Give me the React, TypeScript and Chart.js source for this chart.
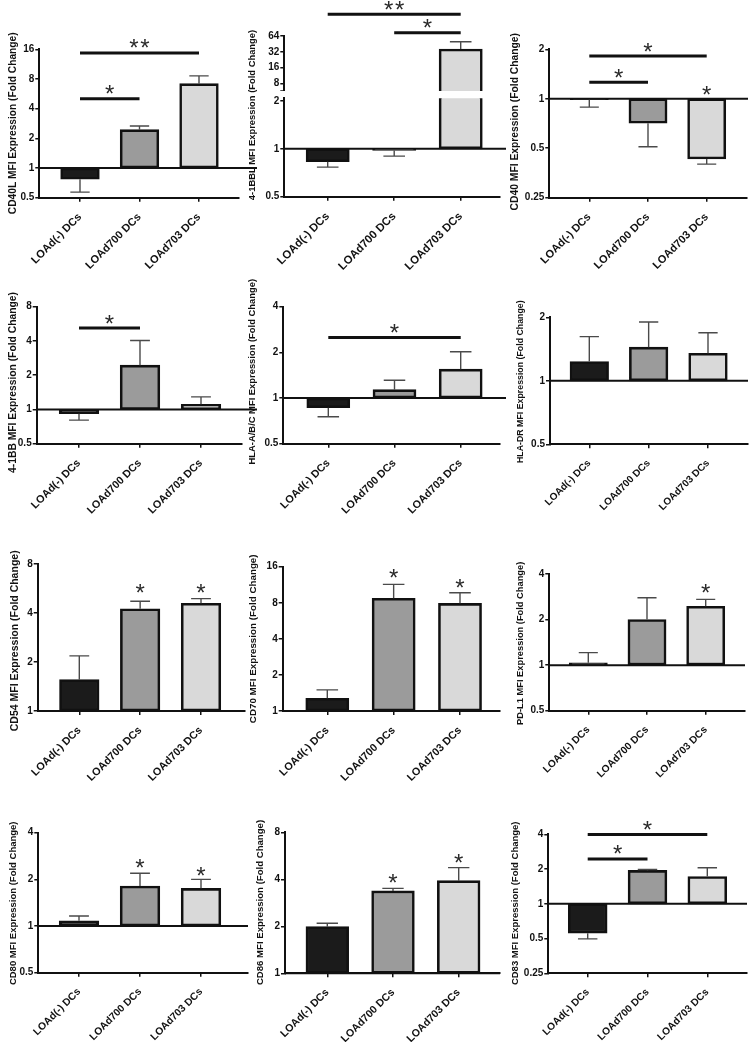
import React, { useEffect, useRef } from 'react';
import { Chart, registerables } from 'chart.js';

Chart.register(...registerables);

const groups = ['LOAd(-) DCs', 'LOAd700 DCs', 'LOAd703 DCs'];
const barColors = ['#1b1b1b', '#9b9b9b', '#d9d9d9'];

// ---- data (fold change, error bar end values, significance marks) ----
const cd40lValues = [0.77, 2.45, 7.17];
const cd40lErrors = [0.57, 2.67, 8.6];
const cd40lBrackets = [{ from: 0, to: 1, y: 5.05, label: '*' }, { from: 0, to: 2, y: 14.7, label: '**' }];
const cd40lTicks = [0.5, 1, 2, 4, 8, 16];

const bbl41Values = [0.83, 0.976, 36];
const bbl41Errors = [0.767, 0.9, 49.7];
const bbl41Brackets = [{ from: 0, to: 2, y: 166, label: '**' }, { from: 1, to: 2, y: 74, label: '*' }];
const bbl41LowerTicks = [0.5, 1, 2];
const bbl41UpperTicks = [8, 16, 32, 64];

const cd40Values = [0.986, 0.71, 0.43];
const cd40Errors = [0.89, 0.51, 0.4];
const cd40Brackets = [{ from: 0, to: 1, y: 1.26, label: '*' }, { from: 0, to: 2, y: 1.82, label: '*' }];
const cd40Stars = [{ at: 2, y: 1.12 }];
const cd40Ticks = [0.25, 0.5, 1, 2];

const bb41Values = [0.916, 2.45, 1.11];
const bb41Errors = [0.806, 4.04, 1.29];
const bb41Brackets = [{ from: 0, to: 1, y: 5.19, label: '*' }];
const bb41Ticks = [0.5, 1, 2, 4, 8];

const hlaAbcValues = [0.863, 1.135, 1.55];
const hlaAbcErrors = [0.753, 1.31, 2.02];
const hlaAbcBrackets = [{ from: 0, to: 2, y: 2.51, label: '*' }];
const hlaAbcTicks = [0.5, 1, 2, 4];

const hlaDrValues = [1.235, 1.444, 1.35];
const hlaDrErrors = [1.62, 1.9, 1.69];
const hlaDrTicks = [0.5, 1, 2];

const cd54Values = [1.557, 4.25, 4.59];
const cd54Errors = [2.18, 4.72, 4.9];
const cd54Stars = [{ at: 1, y: 5.66 }, { at: 2, y: 5.66 }];
const cd54Ticks = [1, 2, 4, 8];

const cd70Values = [1.276, 8.71, 7.91];
const cd70Errors = [1.5, 11.4, 9.7];
const cd70Stars = [{ at: 1, y: 14.1 }, { at: 2, y: 11.6 }];
const cd70Ticks = [1, 2, 4, 8, 16];

const pdl1Values = [1.036, 2.0, 2.45];
const pdl1Errors = [1.21, 2.79, 2.72];
const pdl1Stars = [{ at: 2, y: 3.2 }];
const pdl1Ticks = [0.5, 1, 2, 4];

const cd80Values = [1.08, 1.81, 1.75];
const cd80Errors = [1.16, 2.19, 2.0];
const cd80Stars = [{ at: 1, y: 2.54 }, { at: 2, y: 2.24 }];
const cd80Ticks = [0.5, 1, 2, 4];

const cd86Values = [1.99, 3.37, 3.92];
const cd86Errors = [2.09, 3.5, 4.75];
const cd86Stars = [{ at: 1, y: 4.02 }, { at: 2, y: 5.45 }];
const cd86Ticks = [1, 2, 4, 8];

const cd83Values = [0.557, 1.945, 1.725];
const cd83Errors = [0.497, 1.98, 2.05];
const cd83Brackets = [{ from: 0, to: 1, y: 2.45, label: '*' }, { from: 0, to: 2, y: 3.99, label: '*' }];
const cd83Ticks = [0.25, 0.5, 1, 2, 4];

const FONT = "'Liberation Sans', Arial, sans-serif";

type Seg = {
  rect: { left: number; top: number; width: number; height: number };
  axisX: number; plotTop: number; plotBottom: number;
  t0: number; t2: number; plotRight: number; lineEnd: number;
  yMin: number; yMax: number; ticks: number[];
  showX?: boolean; annot?: boolean; clip?: boolean; title?: boolean; breakTick?: boolean;
};

type Panel = {
  title: string; fs: number; xfs: number; titleX: number; titleY: number;
  values: number[]; errors: number[];
  brackets?: { from: number; to: number; y: number; label: string }[];
  stars?: { at: number; y: number }[];
  segments: Seg[];
};

const col = [
  { left: 0, width: 262 },
  { left: 244, width: 266 },
  { left: 494, width: 257 },
];

function single(c: number, top: number, height: number, g: Omit<Seg, 'rect'>): Seg[] {
  return [{ rect: { left: col[c].left, top, width: col[c].width, height }, showX: true, annot: true, title: true, ...g }];
}

const panels: Panel[] = [
  {
    title: 'CD40L MFI Expression (Fold Change)', fs: 10.2, xfs: 11, titleX: 13.3, titleY: 123.3,
    values: cd40lValues, errors: cd40lErrors, brackets: cd40lBrackets,
    segments: single(0, 0, 270, { axisX: 39.3, plotTop: 49.3, plotBottom: 197.7, t0: 80, t2: 199, plotRight: 239, lineEnd: 257, yMin: 0.5, yMax: 16, ticks: cd40lTicks }),
  },
  {
    title: '4-1BBL MFI Expression (Fold Change)', fs: 9.4, xfs: 11.4, titleX: 252.7, titleY: 115,
    values: bbl41Values, errors: bbl41Errors, brackets: bbl41Brackets,
    segments: [
      { rect: { left: 244, top: 0, width: 266, height: 270 }, axisX: 284.3, plotTop: 98.3, plotBottom: 196.7, t0: 327.7, t2: 460.7, plotRight: 500, lineEnd: 506, yMin: 0.5, yMax: 2.08, ticks: bbl41LowerTicks, showX: true, annot: false, clip: true, title: true },
      { rect: { left: 244, top: 0, width: 266, height: 91 }, axisX: 284.3, plotTop: 36, plotBottom: 91, t0: 327.7, t2: 460.7, plotRight: 500, lineEnd: 506, yMin: 5.7, yMax: 64, ticks: bbl41UpperTicks, showX: false, annot: true, clip: true, title: false, breakTick: true },
    ],
  },
  {
    title: 'CD40 MFI Expression (Fold Change)', fs: 10.3, xfs: 11, titleX: 515, titleY: 121.7,
    values: cd40Values, errors: cd40Errors, brackets: cd40Brackets, stars: cd40Stars,
    segments: single(2, 0, 270, { axisX: 549.3, plotTop: 49.3, plotBottom: 197.7, t0: 589.3, t2: 706.7, plotRight: 747, lineEnd: 748, yMin: 0.25, yMax: 2, ticks: cd40Ticks }),
  },
  {
    title: '4-1BB MFI Expression (Fold Change)', fs: 10.3, xfs: 10.8, titleX: 13.3, titleY: 382.5,
    values: bb41Values, errors: bb41Errors, brackets: bb41Brackets,
    segments: single(0, 260, 270, { axisX: 36.7, plotTop: 306.7, plotBottom: 443.7, t0: 79, t2: 201, plotRight: 242, lineEnd: 257, yMin: 0.5, yMax: 8, ticks: bb41Ticks }),
  },
  {
    title: 'HLA-A/B/C MFI Expression (Fold Change)', fs: 9.4, xfs: 10.8, titleX: 252.7, titleY: 371.7,
    values: hlaAbcValues, errors: hlaAbcErrors, brackets: hlaAbcBrackets,
    segments: single(1, 260, 270, { axisX: 283.3, plotTop: 306.7, plotBottom: 443.7, t0: 328.3, t2: 460.7, plotRight: 500, lineEnd: 506, yMin: 0.5, yMax: 4, ticks: hlaAbcTicks }),
  },
  {
    title: 'HLA-DR MFI Expression (Fold Change)', fs: 8.8, xfs: 10, titleX: 520.7, titleY: 381.7,
    values: hlaDrValues, errors: hlaDrErrors,
    segments: single(2, 260, 270, { axisX: 550, plotTop: 317.3, plotBottom: 444.3, t0: 589.3, t2: 708, plotRight: 748, lineEnd: 748, yMin: 0.5, yMax: 2, ticks: hlaDrTicks }),
  },
  {
    title: 'CD54 MFI Expression (Fold Change)', fs: 10.5, xfs: 10.8, titleX: 15, titleY: 640.8,
    values: cd54Values, errors: cd54Errors, stars: cd54Stars,
    segments: single(0, 520, 270, { axisX: 37.7, plotTop: 564, plotBottom: 711, t0: 79.3, t2: 201, plotRight: 245, lineEnd: 245, yMin: 1, yMax: 8, ticks: cd54Ticks }),
  },
  {
    title: 'CD70 MFI Expression (Fold Change)', fs: 9.8, xfs: 10.8, titleX: 253.3, titleY: 638.8,
    values: cd70Values, errors: cd70Errors, stars: cd70Stars,
    segments: single(1, 520, 270, { axisX: 282.7, plotTop: 566.7, plotBottom: 711, t0: 327.3, t2: 460, plotRight: 500, lineEnd: 500, yMin: 1, yMax: 16, ticks: cd70Ticks }),
  },
  {
    title: 'PD-L1 MFI Expression (Fold Change)', fs: 9.3, xfs: 10.2, titleX: 520.7, titleY: 643.3,
    values: pdl1Values, errors: pdl1Errors, stars: pdl1Stars,
    segments: single(2, 520, 270, { axisX: 549.3, plotTop: 574, plotBottom: 710.7, t0: 588.3, t2: 705.7, plotRight: 745, lineEnd: 745, yMin: 0.5, yMax: 4, ticks: pdl1Ticks }),
  },
  {
    title: 'CD80 MFI Expression (Fold Change)', fs: 9.5, xfs: 10.3, titleX: 13.3, titleY: 903.3,
    values: cd80Values, errors: cd80Errors, stars: cd80Stars,
    segments: single(0, 780, 262, { axisX: 38.3, plotTop: 832.7, plotBottom: 972.7, t0: 79, t2: 201, plotRight: 248, lineEnd: 248, yMin: 0.5, yMax: 4, ticks: cd80Ticks }),
  },
  {
    title: 'CD86 MFI Expression (Fold Change)', fs: 9.6, xfs: 10.6, titleX: 260, titleY: 902.5,
    values: cd86Values, errors: cd86Errors, stars: cd86Stars,
    segments: single(1, 780, 262, { axisX: 285, plotTop: 832.3, plotBottom: 973.3, t0: 327.3, t2: 458.7, plotRight: 500, lineEnd: 500, yMin: 1, yMax: 8, ticks: cd86Ticks }),
  },
  {
    title: 'CD83 MFI Expression (Fold Change)', fs: 9.5, xfs: 10.2, titleX: 515, titleY: 903.3,
    values: cd83Values, errors: cd83Errors, brackets: cd83Brackets,
    segments: single(2, 780, 262, { axisX: 548.3, plotTop: 834.3, plotBottom: 973.3, t0: 587.7, t2: 707.3, plotRight: 747, lineEnd: 747, yMin: 0.25, yMax: 4, ticks: cd83Ticks }),
  },
];

const INK = '#111111';
const STAR_SIZE = 24;

function drawStar(ctx: CanvasRenderingContext2D, text: string, cx: number, cy: number) {
  ctx.save();
  ctx.font = `${STAR_SIZE}px ${FONT}`;
  ctx.fillStyle = '#2a2a2a';
  ctx.textAlign = 'center';
  ctx.textBaseline = 'alphabetic';
  const chars = text.split('');
  const gap = 11;
  chars.forEach((ch, k) => {
    const m = ctx.measureText(ch);
    const asc = m.actualBoundingBoxAscent;
    const desc = m.actualBoundingBoxDescent;
    const x = cx + (k - (chars.length - 1) / 2) * gap;
    ctx.fillText(ch, x, cy + (asc - desc) / 2);
  });
  ctx.restore();
}

function Segment({ seg, panel }: { seg: Seg; panel: Panel }) {
  const ref = useRef<HTMLCanvasElement>(null);
  useEffect(() => {
    const canvas = ref.current;
    if (!canvas) return;
    const r = seg.rect;
    const step = (seg.t2 - seg.t0) / 2;
    const xMin = -(seg.t0 - seg.axisX) / step;
    const xMax = 2 + (seg.plotRight - seg.t2) / step;
    const barW = step * 0.65;
    const tickFont = { family: FONT, weight: 'bold' as const, size: 10 };
    const xFont = { family: FONT, weight: 'bold' as const, size: panel.xfs };

    const annotPlugin = {
      id: 'annot',
      afterDatasetsDraw(chart: any) {
        const { ctx, chartArea, scales } = chart;
        const xs = scales.x;
        const ys = scales.y;
        const inRange = (v: number) => v >= seg.yMin - 1e-9 && v <= seg.yMax + 1e-9;
        ctx.save();
        // reference line at fold change 1
        if (seg.showX && inRange(1)) {
          const y1 = ys.getPixelForValue(1);
          ctx.strokeStyle = INK;
          ctx.lineWidth = 2;
          ctx.beginPath();
          ctx.moveTo(chartArea.left, y1);
          ctx.lineTo(seg.lineEnd - r.left, y1);
          ctx.stroke();
        }
        // error bars (one-sided)
        panel.values.forEach((v, i) => {
          const e = panel.errors[i];
          if (!inRange(v) || !inRange(e)) return;
          const px = xs.getPixelForValue(i);
          const yv = ys.getPixelForValue(v);
          const ye = ys.getPixelForValue(e);
          const cap = barW * 0.25;
          ctx.strokeStyle = '#4a4a4a';
          ctx.lineWidth = 1.4;
          ctx.beginPath();
          ctx.moveTo(px, yv);
          ctx.lineTo(px, ye);
          ctx.moveTo(px - cap, ye);
          ctx.lineTo(px + cap, ye);
          ctx.stroke();
        });
        if (seg.breakTick) {
          ctx.strokeStyle = INK;
          ctx.lineWidth = 1.5;
          ctx.beginPath();
          ctx.moveTo(chartArea.left - 4, chartArea.bottom);
          ctx.lineTo(chartArea.left, chartArea.bottom);
          ctx.stroke();
        }
        if (seg.annot) {
          (panel.brackets || []).forEach((b) => {
            const x1 = xs.getPixelForValue(b.from);
            const x2 = xs.getPixelForValue(b.to);
            const yb = ys.getPixelForValue(b.y);
            ctx.strokeStyle = INK;
            ctx.lineWidth = 3;
            ctx.beginPath();
            ctx.moveTo(x1, yb);
            ctx.lineTo(x2, yb);
            ctx.stroke();
            drawStar(ctx, b.label, (x1 + x2) / 2, yb - 9);
          });
          (panel.stars || []).forEach((s) => {
            drawStar(ctx, '*', xs.getPixelForValue(s.at), ys.getPixelForValue(s.y));
          });
        }
        if (seg.title) {
          ctx.save();
          ctx.translate(panel.titleX - r.left, panel.titleY - r.top);
          ctx.rotate(-Math.PI / 2);
          ctx.font = `bold ${panel.fs}px ${FONT}`;
          ctx.fillStyle = INK;
          ctx.textAlign = 'center';
          ctx.textBaseline = 'middle';
          ctx.fillText(panel.title, 0, 0);
          ctx.restore();
        }
        ctx.restore();
      },
    };

    const chart = new Chart(canvas, {
      type: 'bar',
      data: {
        datasets: [
          {
            data: panel.values.map((v, i) => ({ x: i, y: [1, v] })) as any,
            backgroundColor: barColors,
            borderColor: INK,
            borderWidth: 2.6,
            borderSkipped: false,
            barThickness: barW,
            clip: seg.clip ? 0 : (false as any),
          },
        ],
      },
      options: {
        animation: false,
        responsive: false,
        maintainAspectRatio: false,
        events: [],
        layout: {
          padding: {
            left: 0,
            top: seg.plotTop - r.top,
            right: r.left + r.width - seg.plotRight,
            bottom: seg.showX ? 0 : r.top + r.height - seg.plotBottom,
          },
        },
        plugins: { legend: { display: false }, tooltip: { enabled: false }, title: { display: false } },
        scales: {
          x: {
            type: 'linear',
            display: !!seg.showX,
            min: xMin,
            max: xMax,
            bounds: 'data',
            offset: false,
            afterBuildTicks: (sc: any) => {
              sc.ticks = [0, 1, 2].map((v) => ({ value: v }));
            },
            ticks: {
              callback: (v: any) => groups[v] ?? '',
              minRotation: 45,
              maxRotation: 45,
              autoSkip: false,
              padding: 9,
              font: xFont,
              color: INK,
            },
            grid: { display: true, drawOnChartArea: false, drawTicks: true, tickLength: 4, color: INK, lineWidth: 1.5, offset: false },
            border: { display: true, color: INK, width: 2 },
            afterFit: (sc: any) => {
              sc.height = r.top + r.height - seg.plotBottom;
              sc.paddingLeft = 0;
              sc.paddingRight = 0;
            },
          },
          y: {
            type: 'logarithmic',
            min: seg.yMin,
            max: seg.yMax,
            bounds: 'data',
            afterBuildTicks: (sc: any) => {
              sc.ticks = seg.ticks.map((v) => ({ value: v }));
            },
            ticks: {
              callback: (v: any) => String(v),
              autoSkip: false,
              padding: 1,
              font: tickFont,
              color: INK,
            },
            grid: { display: true, drawOnChartArea: false, drawTicks: true, tickLength: 4, color: INK, lineWidth: 1.5 },
            border: { display: true, color: INK, width: 2 },
            afterFit: (sc: any) => {
              sc.width = seg.axisX - r.left;
              sc.paddingTop = 0;
              sc.paddingBottom = 0;
            },
          },
        },
      } as any,
      plugins: [annotPlugin],
    });
    return () => chart.destroy();
  }, []);
  const r = seg.rect;
  return (
    <canvas
      ref={ref}
      width={r.width}
      height={r.height}
      style={{ position: 'absolute', left: r.left, top: r.top, width: r.width, height: r.height }}
    />
  );
}

export default function App() {
  return (
    <div style={{ position: 'absolute', left: 0, top: 0, width: 751, height: 1042, background: '#ffffff', overflow: 'hidden' }}>
      {panels.map((p, pi) =>
        p.segments.map((s, si) => <Segment key={`${pi}-${si}`} seg={s} panel={p} />)
      )}
    </div>
  );
}
